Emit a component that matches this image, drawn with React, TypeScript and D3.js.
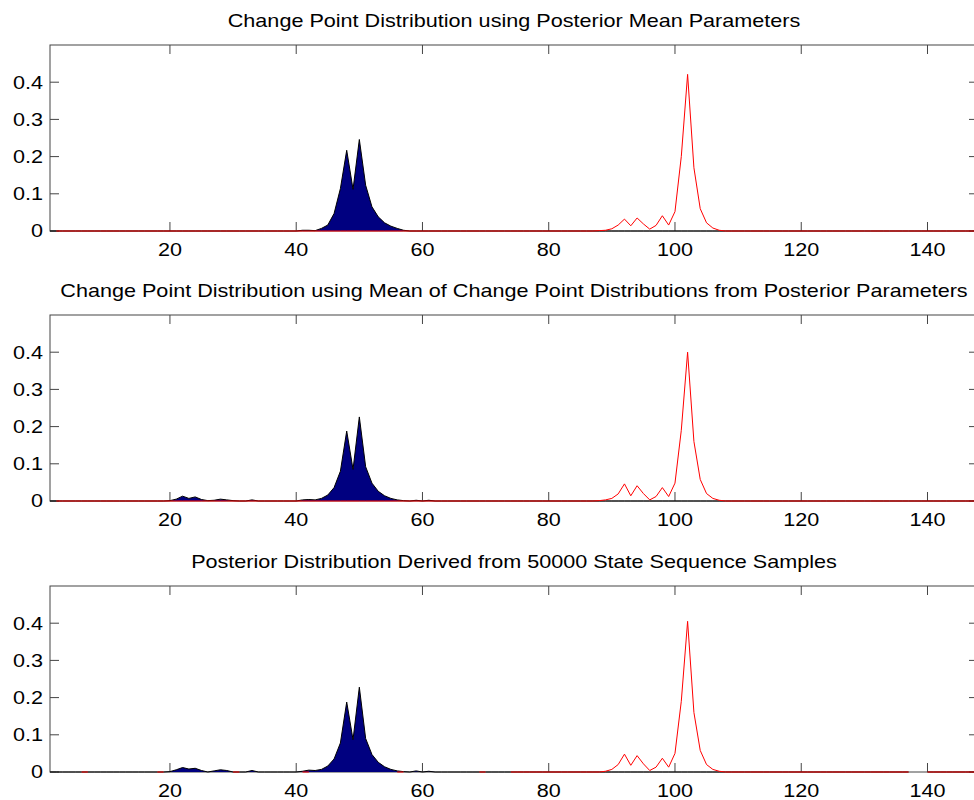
import React from "react";
import * as d3 from "d3";

// ---------- data ----------
const xDomain = [1, 148];
const xTicks = [20, 40, 60, 80, 100, 120, 140];
const yTicks = [0, 0.1, 0.2, 0.3, 0.4];
const yTickLabels = ["0", "0.1", "0.2", "0.3", "0.4"];

const titles = [
  "Change Point Distribution using Posterior Mean Parameters",
  "Change Point Distribution using Mean of Change Point Distributions from Posterior Parameters",
  "Posterior Distribution Derived from 50000 State Sequence Samples",
];

// first change point (blue area): [x, probability]; zero elsewhere
const blue1: [number, number][] = [
  [41, 0.002], [42, 0.002], [43, 0.001], [44, 0.007], [45, 0.016], [46, 0.047],
  [47, 0.114], [48, 0.217], [49, 0.112], [50, 0.246], [51, 0.123], [52, 0.065],
  [53, 0.038], [54, 0.022], [55, 0.013], [56, 0.007], [57, 0.002],
];
const blue2: [number, number][] = [
  [20, 0.001], [21, 0.005], [22, 0.013], [23, 0.007], [24, 0.011], [25, 0.004],
  [26, 0.001], [27, 0.002], [28, 0.005], [29, 0.003], [30, 0.001], [33, 0.003],
  [41, 0.003], [42, 0.004], [43, 0.003], [44, 0.007], [45, 0.016], [46, 0.036],
  [47, 0.08], [48, 0.188], [49, 0.085], [50, 0.226], [51, 0.092], [52, 0.048],
  [53, 0.026], [54, 0.014], [55, 0.007], [56, 0.003], [57, 0.001], [59, 0.002],
  [61, 0.002],
];
const blue3: [number, number][] = [
  [20, 0.001], [21, 0.006], [22, 0.012], [23, 0.008], [24, 0.01], [25, 0.004],
  [27, 0.003], [28, 0.006], [29, 0.004], [33, 0.004], [41, 0.002], [42, 0.005],
  [43, 0.004], [44, 0.007], [45, 0.016], [46, 0.035], [47, 0.078], [48, 0.188],
  [49, 0.087], [50, 0.228], [51, 0.09], [52, 0.047], [53, 0.026], [54, 0.014],
  [55, 0.007], [56, 0.003], [57, 0.001], [59, 0.003], [61, 0.002],
];

// second change point (red line): [x, probability]; zero elsewhere
const red1: [number, number][] = [
  [88, 0.001], [89, 0.002], [90, 0.006], [91, 0.016], [92, 0.032], [93, 0.014],
  [94, 0.035], [95, 0.019], [96, 0.005], [97, 0.015], [98, 0.041], [99, 0.016],
  [100, 0.052], [101, 0.2], [102, 0.421], [103, 0.17], [104, 0.06], [105, 0.022],
  [106, 0.008], [107, 0.002],
];
const red2: [number, number][] = [
  [88, 0.001], [89, 0.003], [90, 0.007], [91, 0.019], [92, 0.046], [93, 0.014],
  [94, 0.041], [95, 0.02], [96, 0.003], [97, 0.012], [98, 0.036], [99, 0.012],
  [100, 0.048], [101, 0.19], [102, 0.4], [103, 0.16], [104, 0.058], [105, 0.02],
  [106, 0.007], [107, 0.002],
];
const red3: [number, number][] = [
  [89, 0.002], [90, 0.007], [91, 0.02], [92, 0.048], [93, 0.018], [94, 0.044],
  [95, 0.022], [96, 0.004], [97, 0.013], [98, 0.037], [99, 0.013], [100, 0.05],
  [101, 0.19], [102, 0.405], [103, 0.16], [104, 0.058], [105, 0.02], [106, 0.007],
  [107, 0.002],
];

// where each series is drawn (x ranges, inclusive)
const blueRanges1 = [[1, 148]];
const blueRanges2 = [[1, 148]];
const blueRanges3 = [[1, 137], [140, 148]];
const redRanges1 = [[2, 148]];
const redRanges2 = [[2, 148]];
const redRanges3 = [[6, 7], [18, 19], [30, 31], [41, 42], [56, 57], [69, 70], [74, 137], [140, 148]];

const panels = [
  { title: titles[0], blue: blue1, red: red1, blueR: blueRanges1, redR: redRanges1 },
  { title: titles[1], blue: blue2, red: red2, blueR: blueRanges2, redR: redRanges2 },
  { title: titles[2], blue: blue3, red: red3, blueR: blueRanges3, redR: redRanges3 },
];

// ---------- layout ----------
const W = 974;
const H = 800;
const left = 50;
const right = 978;
const panelTops = [45, 315, 586];
const panelH = 186;
const tickLen = 9;
const font = "'Liberation Sans', Arial, Helvetica, sans-serif";
const stretch = 1.2; // reference glyphs are horizontally wider

type Pt = { x: number; y: number | null };

function expand(points: [number, number][], ranges: number[][]): Pt[] {
  const map = new Map(points.map(([x, y]) => [x, y]));
  const inRange = (x: number) => ranges.some(([a, b]) => x >= a && x <= b);
  const out: Pt[] = [];
  for (let x = xDomain[0]; x <= xDomain[1]; x++) {
    out.push({ x, y: inRange(x) ? map.get(x) ?? 0 : null });
  }
  return out;
}

function Label(props: {
  x: number;
  y: number;
  anchor: "start" | "middle" | "end";
  dy?: string;
  children: React.ReactNode;
}) {
  return (
    <text
      transform={`translate(${props.x},${props.y}) scale(${stretch},1)`}
      dy={props.dy}
      textAnchor={props.anchor}
      fontFamily={font}
      fontSize={18}
      fill="#000"
    >
      {props.children}
    </text>
  );
}

function Panel({ idx }: { idx: number }) {
  const p = panels[idx];
  const top = panelTops[idx];
  const bottom = top + panelH;
  const x = d3.scaleLinear().domain(xDomain).range([left, right]);
  const y = d3.scaleLinear().domain([0, 0.5]).range([bottom, top]);

  const blueData = expand(p.blue, p.blueR);
  const redData = expand(p.red, p.redR);

  const area = d3
    .area<Pt>()
    .defined((d) => d.y !== null)
    .x((d) => x(d.x))
    .y0(y(0))
    .y1((d) => y(d.y as number));
  const line = d3
    .line<Pt>()
    .defined((d) => d.y !== null)
    .x((d) => x(d.x))
    .y((d) => y(d.y as number));

  const axisColor = "#444";
  return (
    <g>
      <Label x={(left + right) / 2} y={top - 18} anchor="middle">
        {p.title}
      </Label>
      {xTicks.map((t) => (
        <g key={"xt" + t}>
          <line x1={x(t)} x2={x(t)} y1={bottom} y2={bottom - tickLen} stroke={axisColor} />
          <line x1={x(t)} x2={x(t)} y1={top} y2={top + tickLen} stroke={axisColor} />
          <Label x={x(t)} y={bottom + 25} anchor="middle">
            {t}
          </Label>
        </g>
      ))}
      {yTicks.map((t, i) => (
        <g key={"yt" + t}>
          <line x1={left} x2={left + tickLen} y1={y(t)} y2={y(t)} stroke={axisColor} />
          <line x1={right} x2={right - tickLen} y1={y(t)} y2={y(t)} stroke={axisColor} />
          <Label x={left - 7} y={y(t)} dy="0.36em" anchor="end">
            {yTickLabels[i]}
          </Label>
        </g>
      ))}
      <rect
        x={left}
        y={top}
        width={right - left}
        height={panelH}
        fill="none"
        stroke={axisColor}
        strokeWidth={1}
      />
      <path d={area(blueData) || ""} fill="#000080" stroke="none" />
      <path d={line(blueData) || ""} fill="none" stroke="#000" strokeWidth={1} />
      <path d={line(redData) || ""} fill="none" stroke="#ff0000" strokeWidth={1} />
    </g>
  );
}

export default function App() {
  return (
    <svg
      width={W}
      height={H}
      viewBox={`0 0 ${W} ${H}`}
      style={{ position: "absolute", left: 0, top: 0, background: "#fff" }}
    >
      <rect x={0} y={0} width={W} height={H} fill="#fff" />
      {panels.map((_, i) => (
        <Panel key={i} idx={i} />
      ))}
    </svg>
  );
}
